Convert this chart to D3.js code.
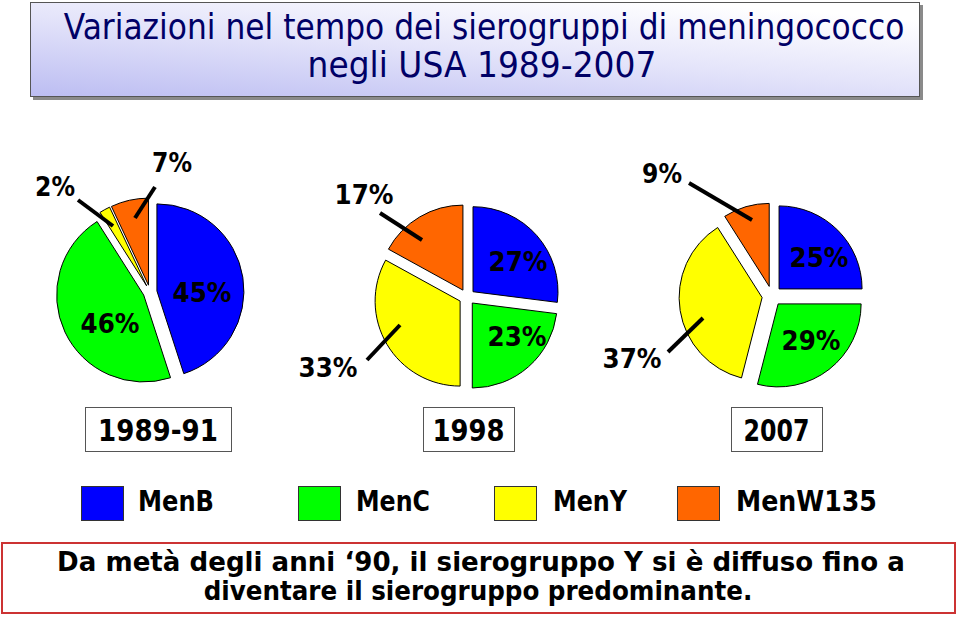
<!DOCTYPE html>
<html><head><meta charset="utf-8">
<script src="https://cdn.jsdelivr.net/npm/d3@7"></script>
<style>body{margin:0;background:#fff}svg{display:block}</style>
</head><body>
<svg id="c" width="960" height="618"></svg>
<script>
// ---- data ----
const categories = ["MenB", "MenC", "MenY", "MenW135"];
const periods = ["1989-91", "1998", "2007"];
const values1989 = [45, 46, 2, 7];
const values1998 = [27, 23, 33, 17];
const values2007 = [25, 29, 37, 9];
const colors = ["#0000ff", "#00ff00", "#ffff00", "#ff6600"];
const titleLines = ["Variazioni nel tempo dei sierogruppi di meningococco", "negli USA 1989-2007"];
const noteLines = ["Da metà degli anni \u201890, il sierogruppo Y si è diffuso fino a", "diventare il sierogruppo predominante."];

// ---- layout ----
const pies = [
  {values: values1989, cx: 150, cy: 292, r: 87, explode: 7,
   labels: [{dx: 52, dy: 0}, {dx: -40, dy: 31}, {dx: -95, dy: -106, leader: [[-37, -66], [-72, -92]]}, {dx: 22, dy: -130, leader: [[-15, -74], [5, -105]]}],
   box: {x0: 85, x1: 231}, textW: 120},
  {values: values1998, cx: 467, cy: 297, r: 85, explode: 8,
   labels: [{dx: 51, dy: -36}, {dx: 50, dy: 39}, {dx: -139, dy: 70, leader: [[-67, 28], [-100, 63]]}, {dx: -103, dy: -103, leader: [[-45, -57], [-87, -84]]}],
   box: {x0: 423, x1: 514}, textW: 72},
  {values: values2007, cx: 772, cy: 296, r: 83, explode: 10,
   labels: [{dx: 47, dy: -39}, {dx: 39, dy: 44}, {dx: -140, dy: 62, leader: [[-69, 22], [-104, 56]]}, {dx: -110, dy: -123, leader: [[-20, -76], [-83, -113]]}],
   box: {x0: 731, x1: 822}, textW: 66}
];
const legendPos = [{x: 81, tx: 138, tw: 76}, {x: 298, tx: 356, tw: 74}, {x: 494, tx: 553, tw: 74}, {x: 677, tx: 736, tw: 141}];

const svg = d3.select("#c");
const defs = svg.append("defs");
const grad = defs.append("linearGradient").attr("id", "tg")
  .attr("x1", "0").attr("y1", "1").attr("x2", "0.75").attr("y2", "0");
grad.append("stop").attr("offset", "0").attr("stop-color", "#bcbdf2");
grad.append("stop").attr("offset", "0.55").attr("stop-color", "#e4e4fa");
grad.append("stop").attr("offset", "1").attr("stop-color", "#ffffff");

// helper: place text and scale it horizontally to a target width
function fitText(parent, str, x, y, width, anchor, attrs) {
  const t = parent.append("text").attr("x", 0).attr("y", 0).attr("text-anchor", anchor).text(str);
  Object.entries(attrs).forEach(([k, v]) => t.attr(k, v));
  const w = t.node().getComputedTextLength();
  const s = w > 0 ? width / w : 1;
  t.attr("transform", `translate(${x},${y}) scale(${s},1)`);
  return t;
}

// title box
svg.append("rect").attr("x", 33).attr("y", 5).attr("width", 890).attr("height", 95).attr("fill", "#8a8a8a");
svg.append("rect").attr("x", 30.5).attr("y", 2.5).attr("width", 889).attr("height", 94)
  .attr("fill", "url(#tg)").attr("stroke", "#555").attr("stroke-width", 1);
const titleFont = "'DejaVu Sans', sans-serif";
const titleAttrs = {"font-family": titleFont, "font-size": 35, "fill": "#000066"};
fitText(svg, titleLines[0], 484, 39, 841, "middle", titleAttrs);
fitText(svg, titleLines[1], 482, 77, 349, "middle", titleAttrs);

const labFont = "'DejaVu Sans', sans-serif";
const pieGen = d3.pie().sort(null).value(d => d);

pies.forEach((p, pi) => {
  const g = svg.append("g").attr("transform", `translate(${p.cx},${p.cy})`);
  const arc = d3.arc().innerRadius(0).outerRadius(p.r);
  const arcs = pieGen(p.values);
  g.selectAll("path").data(arcs).join("path")
    .attr("d", arc)
    .attr("transform", d => {
      const m = (d.startAngle + d.endAngle) / 2;
      return `translate(${p.explode * Math.sin(m)},${-p.explode * Math.cos(m)})`;
    })
    .attr("fill", (d, i) => colors[i])
    .attr("stroke", "#000").attr("stroke-width", 1).attr("stroke-linejoin", "round");
  // leaders
  p.labels.forEach(l => {
    if (l.leader) {
      g.append("line").attr("x1", l.leader[0][0]).attr("y1", l.leader[0][1])
        .attr("x2", l.leader[1][0]).attr("y2", l.leader[1][1])
        .attr("stroke", "#000").attr("stroke-width", 4);
    }
  });
  arcs.forEach((d, i) => {
    fitText(g, d.data + "%", p.labels[i].dx, p.labels[i].dy + 10, d.data < 10 ? 40 : 59, "middle",
      {"font-family": labFont, "font-weight": "bold", "font-size": 27, "fill": "#000"});
  });
  // period box
  svg.append("rect").attr("x", p.box.x0 + 0.5).attr("y", 407.5)
    .attr("width", p.box.x1 - p.box.x0).attr("height", 44)
    .attr("fill", "#fff").attr("stroke", "#555").attr("stroke-width", 1);
  fitText(svg, periods[pi], (p.box.x0 + p.box.x1) / 2, 441, p.textW, "middle",
    {"font-family": labFont, "font-weight": "bold", "font-size": 30});
});

// legend
categories.forEach((c, i) => {
  const lp = legendPos[i];
  svg.append("rect").attr("x", lp.x + 0.5).attr("y", 486.5).attr("width", 42).attr("height", 34)
    .attr("fill", colors[i]).attr("stroke", "#333").attr("stroke-width", 1);
  fitText(svg, c, lp.tx, 511, lp.tw, "start",
    {"font-family": labFont, "font-weight": "bold", "font-size": 29});
});

// note box
svg.append("rect").attr("x", 2).attr("y", 543).attr("width", 953).attr("height", 70)
  .attr("fill", "#fff").attr("stroke", "#cc3333").attr("stroke-width", 2);
const noteAttrs = {"font-family": labFont, "font-weight": "bold", "font-size": 26};
fitText(svg, noteLines[0], 481, 571, 848, "middle", noteAttrs);
fitText(svg, noteLines[1], 478, 600, 549, "middle", noteAttrs);
</script>
</body></html>
